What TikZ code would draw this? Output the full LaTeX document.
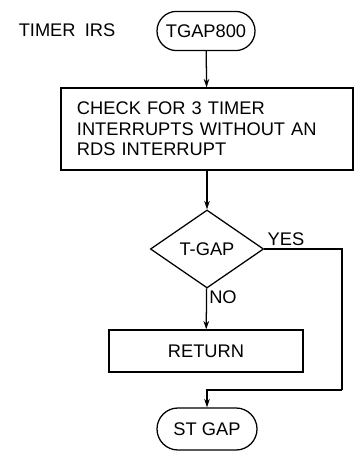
\documentclass[tikz,border=0pt]{standalone}
\usepackage{fontspec}
\setmainfont{Liberation Sans}
\usetikzlibrary{arrows.meta,shapes.geometric,shapes.misc}

\begin{document}
\begin{tikzpicture}[x=0.025cm,y=-0.025cm,line width=0.9pt,font=\fontsize{13}{14.5}\selectfont,
  term/.style={draw,rounded rectangle,minimum width=2.45cm,minimum height=0.98cm,inner sep=0pt},
  proc/.style={draw,rectangle,inner sep=0pt,align=center},
  test/.style={draw,diamond,minimum width=2.83cm,minimum height=1.95cm,inner sep=0pt},
  flow/.style={-{Stealth[length=6pt,width=4pt]}}]
\useasboundingbox (0,0) rectangle (354,452);
\node[term] (tgap) at (206,31) {TGAP800};
\node[anchor=center] (irs) at (67,30) {TIMER\enspace IRS};
\node[proc,align=left,text width=6.5cm,inner xsep=0.4cm,minimum height=2.05cm] (chk) at (207,129) {CHECK FOR 3 TIMER\\INTERRUPTS WITHOUT AN\\RDS INTERRUPT};
\node[test] (gap) at (207,249) {T-GAP};
\node[proc,minimum width=4.85cm,minimum height=1.05cm] (ret) at (206,351) {RETURN};
\node[term,minimum width=2.5cm,minimum height=1.05cm] (stg) at (207,429) {ST GAP};
\coordinate (yr) at (342,390);
\node (yes) at (286,239) {YES};
\node (no) at (223,297) {NO};
\draw[flow] (tgap) -- (chk);
\draw[flow] (chk) -- (gap);
\draw[flow] (gap) -- (ret);
\draw (gap.east) -| (yr);
\draw[flow] (yr) -| (stg.north);
\end{tikzpicture}
\end{document}
